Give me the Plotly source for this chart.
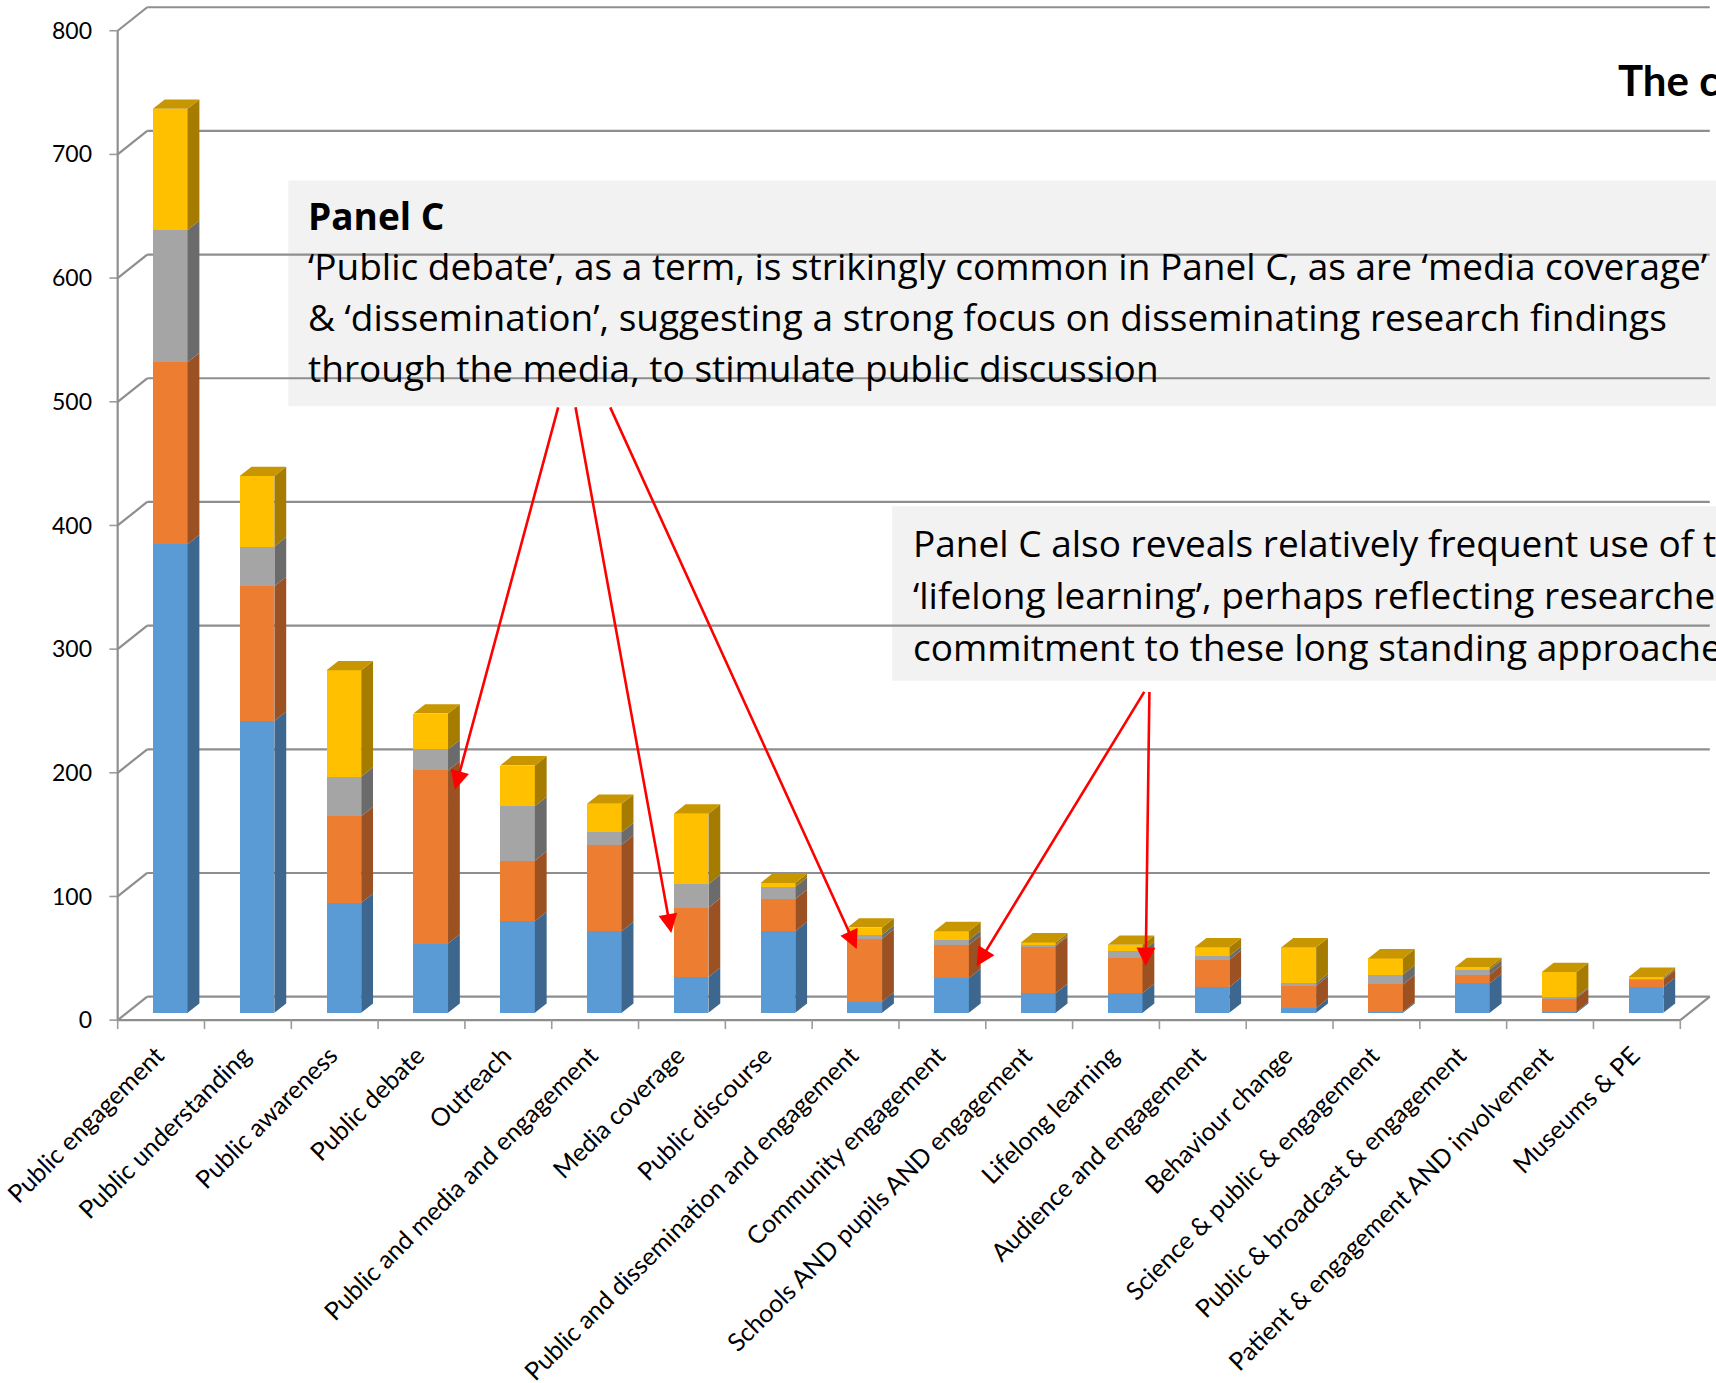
import plotly.graph_objects as go

# ---------------------------------------------------------------- data
categories = [
    "Public engagement", "Public understanding", "Public awareness", "Public debate",
    "Outreach", "Public and media and engagement", "Media coverage", "Public discourse",
    "Public and dissemination and engagement", "Community engagement",
    "Schools AND pupils AND engagement", "Lifelong learning", "Audience and engagement",
    "Behaviour change", "Science & public & engagement", "Public & broadcast & engagement",
    "Patient & engagement AND involvement", "Museums & PE",
]
series_1 = [379, 236, 89, 56, 74, 66, 29, 66, 9, 28, 16, 16, 21, 4, 1, 24, 1, 21]
series_2 = [147, 109, 70, 140, 49, 70, 56, 26, 51, 27, 38, 28, 22, 18, 22, 7, 11, 6]
series_3 = [107, 32, 32, 17, 44, 10, 19, 10, 3, 4, 1, 6, 3, 2, 8, 4, 1, 1]
series_4 = [98, 57, 86, 29, 33, 23, 57, 3, 6, 7, 2, 5, 7, 29, 13, 2, 20, 1]
y_ticks = [0, 100, 200, 300, 400, 500, 600, 700, 800]

# ---------------------------------------------------------------- styling
# (front, side, top) colours of each stacked series
SERIES = [
    ("Series 1", series_1, "#5B9BD5", "#3D678E", "#4C86BC"),
    ("Series 2", series_2, "#ED7D31", "#9B5121", "#C96A2A"),
    ("Series 3", series_3, "#A5A5A5", "#6B6B6B", "#8C8C8C"),
    ("Series 4", series_4, "#FFC000", "#A67C00", "#C79600"),
]
GRID = "#8E8E8E"
TICK = "#9C9C9C"
AXIS_FONT = "Lato"
BOX_FONT = "Open Sans"
BOX_DESCENT = 0.293          # descender of the box font, as a fraction of its size

W, H = 1716, 1383
X0, X1 = -0.6, 17.9          # category axis range
Y0, Y1 = -12, 820            # value axis range
PX_PER_X = 86.83
PX_PER_Y = 1.2372
ZERO_PX = 1020.5             # pixel row of the front floor edge
LEFT_PX = 117.3 + (X0 + 0.5) * PX_PER_X
TOP_PX = ZERO_PX - Y1 * PX_PER_Y
BOT_PX = ZERO_PX - Y0 * PX_PER_Y
RIGHT_PX = LEFT_PX + (X1 - X0) * PX_PER_X
LABEL_SHIFT = -0.05          # nudge of the rotated category labels

# oblique depth of the box (floor / walls) in data units
DX, DY = 0.34, 19.0
F0 = 0.31          # depth position of the column fronts
FD = 0.40          # column depth as a fraction of the box depth
BAR_W = 0.40
XF = F0 * DX       # x shift of column fronts
ZB = F0 * DY       # y shift of column fronts
DDX, DDY = FD * DX, FD * DY

N = len(categories)
XL, XR = -0.5, N - 0.5


def paper_x(px):
    return (px - LEFT_PX) / (RIGHT_PX - LEFT_PX)


def paper_y(py):
    return (BOT_PX - py) / (BOT_PX - TOP_PX)


fig = go.Figure()

# ---------------------------------------------------------------- walls and floor
shapes = []


def seg(x0, y0, x1, y1, color=GRID, width=2.2):
    shapes.append(dict(type="line", xref="x", yref="y", x0=x0, y0=y0, x1=x1, y1=y1,
                       line=dict(color=color, width=width), layer="below"))


for v in y_ticks:
    seg(XL + DX, v + DY, XR + DX, v + DY)          # back-wall gridline
    seg(XL, v, XL + DX, v + DY)                    # side-wall diagonal
    seg(XL - 0.095, v, XL, v, TICK, 1.6)           # value tick
seg(XL, 0, XL, y_ticks[-1])                        # front value axis
seg(XL, 0, XR, 0)                                  # front floor edge
seg(XR, 0, XR + DX, DY)                            # right floor edge
for k in range(N + 1):
    seg(XL + k, 0, XL + k, -7.2, TICK, 1.6)        # category ticks

# ---------------------------------------------------------------- stacked 3-D columns
xs_front = [i + XF for i in range(N)]
bottoms = [0.0] * N
tops_by_color = {}
for name, vals, c_front, c_side, c_top in SERIES:
    fig.add_trace(go.Bar(
        x=xs_front, y=vals, base=[b + ZB for b in bottoms], width=BAR_W,
        marker=dict(color=c_front, line=dict(width=0)), name=name,
        showlegend=False, hoverinfo="skip",
    ))
    sx, sy = [], []
    for i in range(N):
        if vals[i] <= 0:
            continue
        b = bottoms[i] + ZB
        t = b + vals[i]
        xr = xs_front[i] + BAR_W / 2
        sx += [xr, xr + DDX, xr + DDX, xr, xr, None]
        sy += [b, b + DDY, t + DDY, t, b, None]
    fig.add_trace(go.Scatter(x=sx, y=sy, mode="lines", fill="toself",
                             fillcolor=c_side, line=dict(width=0, color=c_side),
                             showlegend=False, hoverinfo="skip"))
    bottoms = [bottoms[i] + vals[i] for i in range(N)]

# lid of each column takes the colour of its highest non-empty segment
for i in range(N):
    top_color = None
    for name, vals, c_front, c_side, c_top in SERIES:
        if vals[i] > 0:
            top_color = c_top
    t = bottoms[i] + ZB
    xl = xs_front[i] - BAR_W / 2
    xr = xs_front[i] + BAR_W / 2
    tx, ty = tops_by_color.setdefault(top_color, ([], []))
    tx += [xl, xr, xr + DDX, xl + DDX, xl, None]
    ty += [t, t, t + DDY, t + DDY, t, None]
for color, (tx, ty) in tops_by_color.items():
    fig.add_trace(go.Scatter(x=tx, y=ty, mode="lines", fill="toself", fillcolor=color,
                             line=dict(width=0, color=color), showlegend=False,
                             hoverinfo="skip"))

# ---------------------------------------------------------------- callout boxes
BOX_FILL = "#F2F2F2"
shapes.append(dict(type="rect", xref="paper", yref="paper",
                   x0=paper_x(288), x1=paper_x(1730), y0=paper_y(406.5), y1=paper_y(180.5),
                   fillcolor=BOX_FILL, line=dict(width=0), layer="below"))
shapes.append(dict(type="rect", xref="paper", yref="paper",
                   x0=paper_x(892), x1=paper_x(1730), y0=paper_y(681), y1=paper_y(506.5),
                   fillcolor=BOX_FILL, line=dict(width=0), layer="below"))

annotations = []
TXT = 37


def text_line(txt, left, baseline, size=TXT, bold=False, family=BOX_FONT, descent=BOX_DESCENT):
    annotations.append(dict(
        text=f"<b>{txt}</b>" if bold else txt, xref="paper", yref="paper",
        x=paper_x(left), y=paper_y(baseline + descent * size), xanchor="left",
        yanchor="bottom", showarrow=False, borderpad=0,
        font=dict(family=family, size=size, color="black"),
    ))


box1 = [
    ("Panel C", True),
    ("‘Public debate’, as a term, is strikingly common in Panel C, as are ‘media coverage’", False),
    ("& ‘dissemination’, suggesting a strong focus on disseminating research findings", False),
    ("through the media, to stimulate public discussion", False),
]
for k, (txt, bold) in enumerate(box1):
    text_line(txt, 307, 231 + 50.6 * k, bold=bold)

box2 = [
    "Panel C also reveals relatively frequent use of the terms",
    "‘lifelong learning’, perhaps reflecting researchers’",
    "commitment to these long standing approaches",
]
for k, txt in enumerate(box2):
    text_line(txt, 912, 558 + 52 * k)

text_line("The c", 1617, 96.7, size=42, bold=True, family=AXIS_FONT, descent=0.213)

# ---------------------------------------------------------------- pointer arrows (tail -> head)
arrows = [
    ((4.579, 496.7), (3.385, 186.3)),
    ((4.771, 496.7), (5.877, 70.5)),
    ((5.166, 496.7), (8.014, 57.5)),
    ((11.336, 266.6), (9.394, 43.5)),
    ((11.385, 266.6), (11.342, 43.5)),
]
for (ax, ay), (hx, hy) in arrows:
    annotations.append(dict(
        x=hx, y=hy, ax=ax, ay=ay, xref="x", yref="y", axref="x", ayref="y",
        text="", showarrow=True, arrowhead=2, arrowsize=1.45, arrowwidth=2.6,
        arrowcolor="#FF0000", standoff=0,
    ))

fig.update_layout(
    width=W, height=H,
    margin=dict(l=LEFT_PX, r=W - RIGHT_PX, t=TOP_PX, b=H - BOT_PX, pad=0, autoexpand=False),
    paper_bgcolor="white", plot_bgcolor="white",
    barmode="overlay", bargap=0,
    shapes=shapes, annotations=annotations,
    xaxis=dict(range=[X0, X1], tickmode="array",
               tickvals=[i + LABEL_SHIFT for i in range(N)], ticktext=categories,
               tickangle=-45, ticks="", showgrid=False, zeroline=False, showline=False,
               tickfont=dict(family=AXIS_FONT, size=25, color="black"), ticklabelstandoff=0,
               ticklabeloverflow="allow", automargin=False, fixedrange=True),
    yaxis=dict(range=[Y0, Y1], tickmode="array", tickvals=y_ticks, ticks="",
               showgrid=False, zeroline=False, showline=False,
               tickfont=dict(family=AXIS_FONT, size=23, color="black"), ticklabelstandoff=16,
               automargin=False, fixedrange=True),
    showlegend=False,
)

fig.write_html("out.html")
